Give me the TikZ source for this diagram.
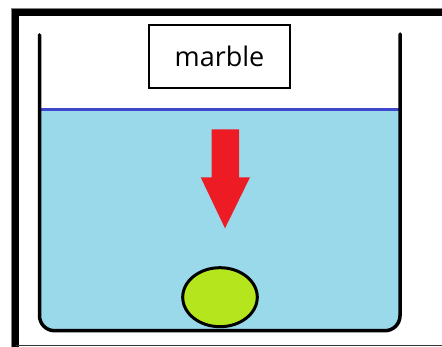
\documentclass[tikz,border=0pt]{standalone}
\usepackage{fontspec}
\newfontfamily\labelfont{Open Sans}
\usetikzlibrary{shapes.geometric,positioning}
\definecolor{water}{RGB}{153,217,234}
\definecolor{surface}{RGB}{63,72,204}
\definecolor{arrowred}{RGB}{237,28,36}
\definecolor{lime}{RGB}{181,230,29}
\tikzset{tag/.style={draw,line width=2pt,minimum width=141pt,minimum height=62.7pt,inner sep=0pt,font=\labelfont\fontsize{27}{30}\selectfont},ball/.style={ellipse,draw,line width=3pt,fill=lime,minimum width=74.6pt,minimum height=59pt,inner sep=0pt},wall/.style={line width=3.5pt,line cap=round}}
\begin{document}
\begin{tikzpicture}[x=1pt,y=-1pt]
\useasboundingbox (0,0) rectangle (442,347);
% frame
\draw[gray,line width=0.8pt] (11.7,347) -- (11.7,8.4) -- (442,8.4);
\draw[line width=7pt] (15.5,347) -- (15.5,12.5) -- (442,12.5);
\draw[black!80,line width=1.2pt] (15.5,345.6) -- (442,345.6);
% water and beaker
\fill[water,rounded corners=15pt] (39.5,109.3) -- (39.5,330.7) -- (400,330.7) -- (400,109.3);
\draw[surface,line width=2.5pt] (39.5,109.3) -- (400,109.3);
\draw[wall,rounded corners=15pt] (39.5,35) -- (39.5,330.7) -- (400,330.7) -- (400,34);
% label, arrow, marble
\node[tag] (label) at (219.5,56.4) {marble};
\fill[arrowred] (211.7,129.3) -- (239,129.3) -- (239,177.3) -- (250,177.3) -- (225,228.3) -- (200.7,177.3) -- (211.7,177.3) -- cycle;
\node[ball] (marble) at (220,297.2) {};
\end{tikzpicture}
\end{document}
